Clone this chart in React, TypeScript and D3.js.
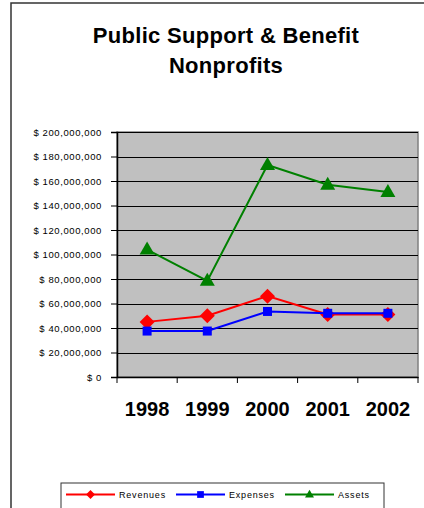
import { useEffect, useRef } from "react";
import * as d3 from "d3";

const years = ["1998", "1999", "2000", "2001", "2002"];
const revenues = [45000000, 50000000, 66000000, 51000000, 51000000];
const expenses = [37500000, 37500000, 53500000, 52000000, 52000000];
const assets = [104000000, 78500000, 173000000, 157000000, 151000000];
const yTicks = [0, 20000000, 40000000, 60000000, 80000000, 100000000, 120000000, 140000000, 160000000, 180000000, 200000000];

const series = [
  { name: "Revenues", values: revenues, color: "#ff0000", marker: "diamond" },
  { name: "Expenses", values: expenses, color: "#0000ff", marker: "square" },
  { name: "Assets", values: assets, color: "#008000", marker: "triangle" },
];

const W = 424;
const H = 508;
const plot = { left: 117, right: 418, top: 132, bottom: 377 };

function markerPath(kind: string, cx: number, cy: number) {
  if (kind === "diamond") {
    return `M${cx},${cy - 7.5}L${cx + 7.5},${cy}L${cx},${cy + 7.5}L${cx - 7.5},${cy}Z`;
  }
  if (kind === "square") {
    return `M${cx - 4.5},${cy - 4.5}h9v9h-9Z`;
  }
  // triangle, centred roughly on the point
  return `M${cx},${cy - 8}L${cx + 7.5},${cy + 5}L${cx - 7.5},${cy + 5}Z`;
}

export default function App() {
  const svgRef = useRef<SVGSVGElement>(null);

  useEffect(() => {
    const svg = d3.select(svgRef.current);
    if (!svg.node()) return;
    svg.selectAll("*").remove();

    const x = d3.scaleBand().domain(years).range([plot.left, plot.right]);
    const y = d3.scaleLinear().domain([0, 200000000]).range([plot.bottom, plot.top]);
    const cx = (i: number) => (x(years[i]) as number) + x.bandwidth() / 2;

    // outer chart border
    svg.append("rect")
      .attr("x", 11).attr("y", 3)
      .attr("width", 500).attr("height", 600)
      .attr("fill", "#fff").attr("stroke", "#333").attr("stroke-width", 1.5);

    // title
    const title = svg.append("text")
      .attr("text-anchor", "middle")
      .attr("font-size", 22).attr("font-weight", "bold")
      .attr("letter-spacing", 0.3)
      .attr("fill", "#000");
    title.append("tspan").attr("x", 226).attr("y", 43).text("Public Support & Benefit");
    title.append("tspan").attr("x", 226).attr("y", 73).text("Nonprofits");

    // plot area
    svg.append("rect")
      .attr("x", plot.left).attr("y", plot.top)
      .attr("width", plot.right - plot.left).attr("height", plot.bottom - plot.top)
      .attr("fill", "#c0c0c0").attr("stroke", "#808080").attr("stroke-width", 1.5);

    // gridlines
    svg.append("g").selectAll("line")
      .data(yTicks.filter((t) => t > 0))
      .join("line")
      .attr("x1", plot.left).attr("x2", plot.right)
      .attr("y1", (d) => Math.round(y(d)) + 0.5).attr("y2", (d) => Math.round(y(d)) + 0.5)
      .attr("stroke", "#000").attr("stroke-width", 1);

    // y axis
    const fmt = (d: number) => "$ " + d3.format(",")(d);
    const yAxis = svg.append("g")
      .attr("transform", `translate(${plot.left},0)`)
      .call(d3.axisLeft(y).tickValues(yTicks).tickSize(6).tickPadding(9).tickFormat((d) => fmt(d as number)));
    yAxis.select(".domain").attr("stroke", "#000").attr("stroke-width", 1.5);
    yAxis.selectAll(".tick line").attr("stroke", "#000");
    yAxis.selectAll("text")
      .attr("font-size", 9.5).attr("fill", "#000")
      .attr("font-family", "Liberation Sans, Arial, sans-serif")
      .attr("letter-spacing", 0.6);

    // x axis
    const xAxis = svg.append("g")
      .attr("transform", `translate(0,${plot.bottom})`)
      .call(d3.axisBottom(x).tickSize(0).tickFormat(() => ""));
    xAxis.select(".domain").attr("stroke", "#000").attr("stroke-width", 1.5);
    svg.append("g").selectAll("line")
      .data(d3.range(years.length + 1))
      .join("line")
      .attr("x1", (i) => plot.left + i * x.bandwidth())
      .attr("x2", (i) => plot.left + i * x.bandwidth())
      .attr("y1", plot.bottom).attr("y2", plot.bottom + 6)
      .attr("stroke", "#000");
    svg.append("g").selectAll("text")
      .data(years)
      .join("text")
      .attr("x", (_d, i) => cx(i)).attr("y", 416)
      .attr("text-anchor", "middle")
      .attr("font-size", 20).attr("font-weight", "bold").attr("fill", "#000")
      .text((d) => d);

    // series
    const line = d3.line<number>().x((_d, i) => cx(i)).y((d) => y(d));
    series.forEach((s) => {
      svg.append("path")
        .attr("d", line(s.values))
        .attr("fill", "none").attr("stroke", s.color).attr("stroke-width", 2);
      svg.append("g").selectAll("path")
        .data(s.values)
        .join("path")
        .attr("d", (d, i) => markerPath(s.marker, cx(i), y(d)))
        .attr("fill", s.color);
    });

    // legend
    svg.append("rect")
      .attr("x", 61).attr("y", 483)
      .attr("width", 323).attr("height", 40)
      .attr("fill", "#fff").attr("stroke", "#333").attr("stroke-width", 1);
    const legendX = [66, 176, 285];
    series.forEach((s, i) => {
      const lx = legendX[i];
      const g = svg.append("g");
      g.append("line")
        .attr("x1", lx).attr("x2", lx + 49)
        .attr("y1", 494.5).attr("y2", 494.5)
        .attr("stroke", s.color).attr("stroke-width", 2);
      const small = s.marker === "square" ? 0.75 : 0.6;
      g.append("path")
        .attr("d", markerPath(s.marker, 0, 0))
        .attr("transform", `translate(${lx + 24.5},494.5) scale(${small})`)
        .attr("fill", s.color);
      g.append("text")
        .attr("x", lx + 53).attr("y", 498)
        .attr("font-size", 9).attr("fill", "#000")
        .attr("letter-spacing", 0.8)
        .text(s.name);
    });
  }, []);

  return (
    <svg
      ref={svgRef}
      width={W}
      height={H}
      style={{ position: "absolute", left: 0, top: 0, background: "#fff" }}
      fontFamily="Liberation Sans, Arial, sans-serif"
    />
  );
}
